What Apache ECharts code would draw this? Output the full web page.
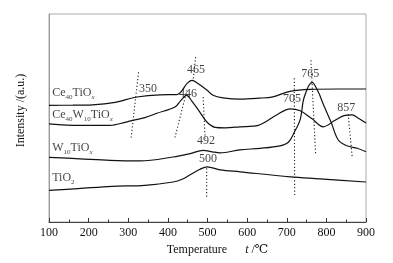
<!DOCTYPE html>
<html>
<head>
<meta charset="utf-8">
<script src="https://cdn.jsdelivr.net/npm/echarts@6/dist/echarts.min.js"></script>
<style>html,body{margin:0;padding:0;background:#fff}#c{width:393px;height:263px}</style>
</head>
<body>
<div id="c"></div>
<script>
// Temperature (°C) vs intensity (a.u., arbitrary offsets)
const ce40TiOx = [[100,116.7],[160,116.8],[209,117.2],[267,119.7],[322,125],[380,127.2],[423,127.4],[436,131.7],[448,138.4],[461,141.7],[476,138.4],[499,131.7],[514,126.7],[539,124.2],[582,122.9],[630,123.8],[665,125.1],[708,130.7],[759,132.7],[830,133],[900,133]];
const ce40W10TiOx = [[100,98.2],[178,96.7],[254,96.7],[292,99.7],[312,101.7],[342,104.4],[372,108.7],[418,115],[433,121.7],[447,126.7],[461,120.7],[481,109.7],[499,99.7],[519,94.7],[544,94.2],[582,95.2],[628,96.7],[673,106.7],[709,113.2],[734,111.2],[764,103.2],[792,95.2],[822,101.7],[847,106.7],[865,107.2],[881,103.7],[900,99]];
const w10TiOx = [[100,64.7],[178,63.2],[254,61.7],[330,61.2],[413,65],[456,68.4],[489,71.7],[512,70.2],[532,69.2],[582,72.2],[633,73.7],[683,76.2],[704,79.7],[719,89.7],[734,102.7],[744,124.7],[764,139.7],[780,129.7],[792,118],[812,99.7],[830,82],[852,76.2],[878,73.7],[900,70.2]];
const tiO2 = [[100,31.7],[173,33.4],[259,35.7],[342,36.7],[413,40],[436,42.7],[456,47.2],[481,52.7],[499,55.2],[532,52.2],[582,50.2],[709,45.2],[784,43.2],[900,40]];

const curveNames = ['Ce40TiOx','Ce40W10TiOx','W10TiOx','TiO2'];
const curveLabelText = ['{n|Ce}{s|40}{n|TiO}{si|x}','{n|Ce}{s|40}{n|W}{s|10}{n|TiO}{si|x}','{n|W}{s|10}{n|TiO}{si|x}','{n|TiO}{s|2}'];
const curveLabelPos = [[108,128.7],[108,106.7],[108,73.7],[108,43.7]];

const peakLabels = ['350','465','446','492','500','705','765','857'];
const peakLabelPos = [[350,132.7],[471,151.7],[451,127.7],[496,80.7],[501,62.7],[713,122.7],[759,147.7],[850,113.7]];

const guideLines = [
  [[326,149.7],[307,83.7]],
  [[448,131.7],[418,84.7]],
  [[470,165],[464,143]],
  [[489,125],[494,83.4]],
  [[498,53.7],[498,25]],
  [[719,143.7],[720,25]],
  [[761,161.7],[773,66.7]],
  [[855,107.7],[865,65.7]]
];

const xTicks = {min:100, max:900, step:100};

const SERIF = '"Liberation Serif","DejaVu Serif","Times New Roman",serif';
const chart = echarts.init(document.getElementById('c'), null, {renderer:'canvas'});

const series = [];
[ce40TiOx, ce40W10TiOx, w10TiOx, tiO2].forEach((d,i)=>{
  series.push({type:'line', name:curveNames[i], data:d, smooth:0.35, symbol:'none',
    lineStyle:{color:'#111', width:1.2}, silent:true, z:3});
});
guideLines.forEach(seg=>{
  series.push({type:'line', data:seg, symbol:'none', silent:true, z:2,
    lineStyle:{color:'#222', width:1.1, type:[1.2,2.2]}});
});
const rich = {
  n:{fontFamily:SERIF, fontSize:12, color:'#111', lineHeight:14, verticalAlign:'middle'},
  s:{fontFamily:SERIF, fontSize:7, color:'#111', lineHeight:10, verticalAlign:'bottom'},
  si:{fontFamily:SERIF, fontSize:7, fontStyle:'italic', color:'#111', lineHeight:10, verticalAlign:'bottom'}
};
series.push({type:'scatter', symbolSize:0, silent:true, z:5,
  data: curveLabelPos.map((p,i)=>({value:p, name:curveLabelText[i]})),
  label:{show:true, position:'right', distance:0, formatter:p=>p.name, rich:rich}
});
series.push({type:'scatter', symbolSize:0, silent:true, z:5,
  data: peakLabelPos.map((p,i)=>({value:p, name:peakLabels[i]})),
  label:{show:true, position:'inside', formatter:p=>p.name, fontFamily:SERIF, fontSize:12, color:'#111'}
});

chart.setOption({
  animation:false,
  backgroundColor:'#fff',
  grid:{left:49, right:27, top:14, bottom:41, show:true, borderColor:'#aaa', borderWidth:1},
  xAxis:{type:'value', min:xTicks.min, max:xTicks.max, interval:xTicks.step,
    name:'{n|Temperature}{g|}{i|t}{n| /℃}', nameLocation:'middle', nameGap:20,
    nameTextStyle:{rich:{n:{fontFamily:SERIF,fontSize:12,color:'#111'},g:{width:18},i:{fontFamily:SERIF,fontSize:12,fontStyle:'italic',color:'#111'}}, padding:[0,0,0,20]},
    axisLine:{show:true, lineStyle:{color:'#444', width:1}},
    axisTick:{show:true, inside:true, length:4, lineStyle:{color:'#333'}},
    minorTick:{show:true, splitNumber:2, length:2.5, lineStyle:{color:'#333'}},
    splitLine:{show:false},
    axisLabel:{fontFamily:SERIF, fontSize:12, color:'#111', margin:5}
  },
  yAxis:{type:'value', min:0, max:208,
    name:'Intensity /(a.u.)', nameLocation:'middle', nameGap:22, nameRotate:90,
    nameTextStyle:{fontFamily:SERIF, fontSize:12, color:'#111', padding:[0,0,0,15]},
    axisLine:{show:true, lineStyle:{color:'#999'}},
    axisTick:{show:false}, axisLabel:{show:false}, splitLine:{show:false}
  },
  series:series
});
</script>
</body>
</html>
